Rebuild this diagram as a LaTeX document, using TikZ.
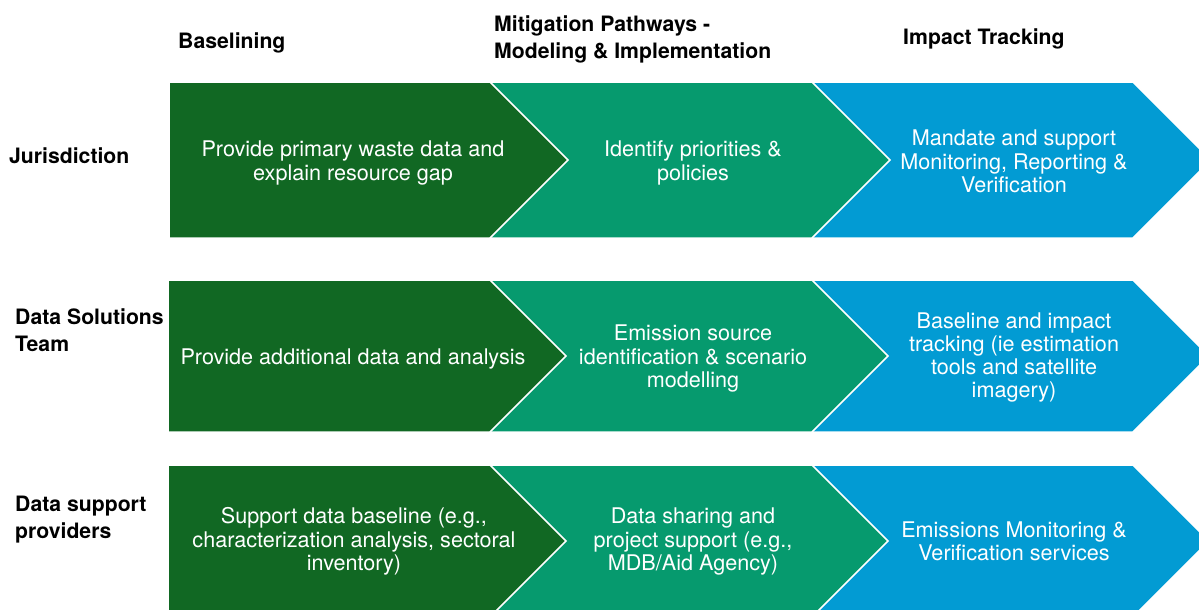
\documentclass[tikz,border=0pt]{standalone}
\usepackage{fontspec}
\setmainfont{TeX Gyre Heros}
\definecolor{cgreen}{RGB}{17,104,35}
\definecolor{cteal}{RGB}{6,154,110}
\definecolor{cblue}{RGB}{2,155,211}
\tikzset{
  chev/.style={draw=white, line width=1.5pt, line join=miter},
  body/.style={text=white, align=center, font=\fontsize{21.6}{23.3}\selectfont, inner sep=0pt},
  head/.style={text=black, align=left, font=\bfseries\fontsize{21.2}{27}\selectfont, inner sep=0pt, anchor=west},
}
\newcommand\chevshape[5]{% x0, x1, ytop, ybot, colour
  \pgfmathsetmacro\hh{(#4-#3)/2}
  \fill[#5, chev] (#1,-#3) -- (#2,-#3) -- ({#2+\hh},{-(#3+\hh)}) -- (#2,-#4) -- (#1,-#4) -- cycle;
}
\begin{document}
\begin{tikzpicture}[x=1pt,y=1pt]
\useasboundingbox (0,0) rectangle (1199,-610);
\clip (0,0) rectangle (1199,-610);
% row 1
\chevshape{812}{1133}{82}{238}{cblue}
\chevshape{490}{812}{82}{238}{cteal}
\chevshape{169}{490}{82}{238}{cgreen}
% row 2
\chevshape{812}{1133}{280}{432}{cblue}
\chevshape{490}{812}{280}{432}{cteal}
\chevshape{168}{490}{280}{432}{cgreen}
% row 3
\chevshape{812}{1133}{465}{617}{cblue}
\chevshape{490}{812}{465}{617}{cteal}
\chevshape{168}{490}{465}{617}{cgreen}
% headers
\node[head] (h1) at (178,-43) {Baselining};
\node[head] (h2) at (494,-39) {Mitigation Pathways -\\Modeling \& Implementation};
\node[head] (h3) at (903,-39) {Impact Tracking};
% row labels
\node[head] (r1) at (9,-156) {Jurisdiction};
\node[head] (r2) at (15,-330) {Data Solutions\\Team};
\node[head] (r3) at (15,-520) {Data support\\providers};
% body texts
\node[body] (a1) at (353,-163) {Provide primary waste data and\\explain resource gap};
\node[body] (b1) at (693,-163) {Identify priorities \&\\policies};
\node[body] (c1) at (1014,-161.5) {Mandate and support\\Monitoring, Reporting \&\\Verification};
\node[body] (a2) at (353,-358.5) {Provide additional data and analysis};
\node[body] (b2) at (693,-358.5) {Emission source\\identification \& scenario\\modelling};
\node[body] (c2) at (1014,-357.5) {Baseline and impact\\tracking (ie estimation\\tools and satellite\\imagery)};
\node[body] (a3) at (354,-541.5) {Support data baseline (e.g.,\\characterization analysis, sectoral\\inventory)};
\node[body] (b3) at (693,-541.5) {Data sharing and\\project support (e.g.,\\MDB/Aid Agency)};
\node[body] (c3) at (1014,-541.5) {Emissions Monitoring \&\\Verification services};
\end{tikzpicture}
\end{document}
